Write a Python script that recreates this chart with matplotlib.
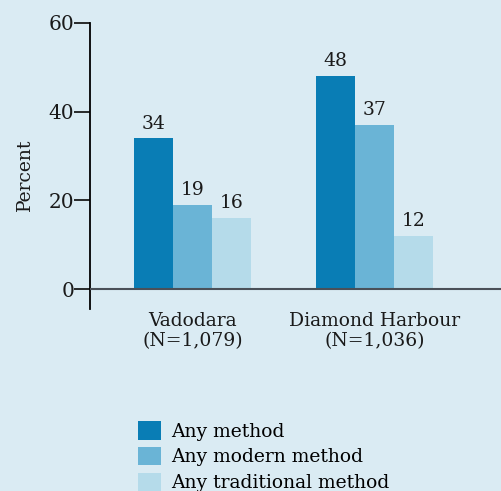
import numpy as np
import matplotlib
matplotlib.use('Agg')
import matplotlib.pyplot as plt
from matplotlib.patches import Patch

# Data
sites = ['Vadodara\n(N=1,079)', 'Diamond Harbour\n(N=1,036)']
series = ['Any method', 'Any modern method', 'Any traditional method']
any_method = [34, 48]
modern_method = [19, 37]
traditional_method = [16, 12]
y_ticks = [0, 20, 40, 60]

colors = ['#097db5', '#6ab4d6', '#b5dbea']
bg = '#daebf3'
ink = '#1a1a1a'

plt.rcParams['font.family'] = ['DejaVu Serif']

fig = plt.figure(figsize=(5.02, 4.91), dpi=100, facecolor=bg)
ax = fig.add_axes([90 / 502, 1 - 309 / 491, 1 - 90 / 502, (309 - 23) / 491])
ax.set_facecolor(bg)

x = np.arange(len(sites))
width = 0.214
values = [any_method, modern_method, traditional_method]
for i, (vals, col) in enumerate(zip(values, colors)):
    bars = ax.bar(x + (i - 1) * width, vals, width, color=col, linewidth=0, zorder=2)
    for b, v in zip(bars, vals):
        ax.text(b.get_x() + b.get_width() / 2, v + 1.3, str(v), ha='center', va='bottom',
                fontsize=13.5, color=ink)

ax.set_xlim(-0.563, 1.70)
ax.set_ylim(-4.5, 60)

# baseline at zero
ax.axhline(0, color='#4a5058', linewidth=1.5, zorder=3)

for s in ['top', 'right', 'bottom']:
    ax.spines[s].set_visible(False)
ax.spines['left'].set_linewidth(1.3)

ax.set_yticks(y_ticks)
ax.tick_params(axis='y', direction='out', length=11.5, width=1.3, labelsize=14.5, pad=0, colors=ink)
ax.set_xticks(x)
ax.set_xticklabels(sites, fontsize=13.5, linespacing=1.15)
ax.tick_params(axis='x', length=0, pad=2, colors=ink)

ax.set_ylabel('Percent', fontsize=13.5, color=ink)
ax.yaxis.set_label_coords(-0.135, 0.47)

handles = [Patch(facecolor=c, edgecolor='none') for c in colors]
fig.legend(handles, series, loc='upper left', bbox_to_anchor=(138 / 502, 1 - 421 / 491),
           frameon=False, fontsize=13.5, handlelength=1.25, handleheight=1.15,
           handletextpad=0.5, labelspacing=0.33, borderpad=0, borderaxespad=0)

fig.savefig('out.png', dpi=100, facecolor=bg)
